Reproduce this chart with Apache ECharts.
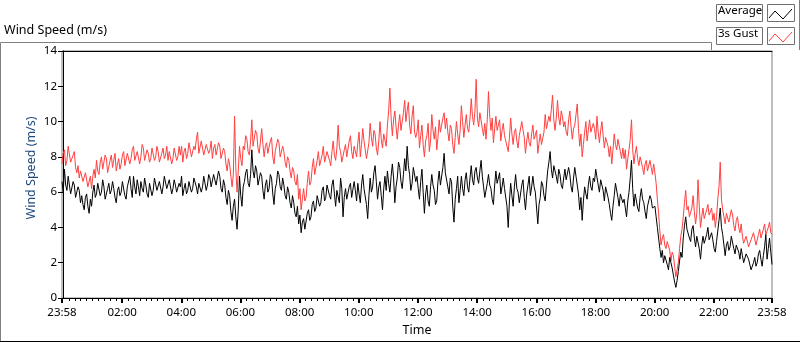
<!DOCTYPE html>
<html>
<head>
  <meta charset="utf-8">
  <title>Wind Speed</title>
  <script src="https://cdn.jsdelivr.net/npm/echarts@6/dist/echarts.min.js"></script>
  <style>
    html, body { margin: 0; padding: 0; background: #fff; overflow: hidden; }
    #chart { width: 800px; height: 342px; }
  </style>
</head>
<body>
<div id="chart"></div>
<script>
  // minutes from midnight; first sample is 23:58 of the previous day (-2)
  const startMin = -2;
  const stepMin = 2.5;

  // Average wind speed (m/s), one row per hour
  const average = [
    6.6, 6.0, 7.3, 6.4, 6.1, 6.9, 6.8, 5.9, 6.0, 6.6, 6.4, 5.7, 5.6, 6.3, 6.1, 5.4, 5.8, 5.3, 5.0, 5.7, 5.9, 5.2, 4.8, 5.6,
    5.2, 6.0, 6.4, 5.7, 5.9, 6.5, 6.6, 5.8, 6.0, 6.7, 6.3, 5.6, 5.5, 6.2, 6.5, 5.9, 6.1, 6.6, 6.2, 5.7, 5.4, 6.1, 6.3, 5.8,
    6.0, 6.6, 6.5, 5.8, 5.6, 6.3, 6.4, 6.9, 6.2, 5.7, 6.9, 6.3, 5.9, 6.7, 6.3, 5.8, 6.6, 6.2, 6.0, 6.8, 6.4, 5.9, 5.7, 6.5,
    6.4, 5.8, 6.1, 6.8, 6.7, 6.1, 6.0, 6.6, 6.5, 5.9, 6.3, 6.9, 6.8, 6.2, 6.1, 6.7, 6.6, 5.9, 6.2, 6.7, 6.4, 6.0, 5.9, 6.5,
    6.3, 6.9, 5.8, 6.2, 6.5, 5.9, 6.1, 6.6, 6.7, 6.0, 6.2, 6.8, 6.9, 6.3, 5.9, 6.5, 6.6, 6.0, 6.3, 6.9, 6.8, 6.1, 6.4, 7.0,
    6.8, 6.3, 6.2, 7.0, 7.1, 6.4, 6.5, 7.2, 6.9, 6.2, 6.0, 6.7, 6.4, 5.7, 5.3, 6.1, 5.8, 4.9, 4.4, 5.2, 5.6, 4.6, 3.9, 5.0,
    6.9, 5.8, 5.2, 6.3, 6.6, 7.1, 7.3, 6.5, 6.3, 7.0, 8.4, 7.2, 6.8, 7.5, 7.2, 6.4, 6.4, 7.1, 6.9, 6.1, 5.6, 6.4, 6.7, 6.0,
    6.2, 7.0, 6.8, 5.9, 5.3, 6.2, 6.5, 7.2, 7.0, 6.3, 6.1, 6.8, 6.4, 5.8, 5.6, 6.3, 6.0, 5.4, 5.1, 5.8, 5.4, 4.8, 4.6, 5.2,
    4.2, 4.7, 3.7, 4.3, 4.5, 3.9, 4.0, 4.8, 5.0, 4.4, 4.6, 5.3, 5.5, 4.9, 5.1, 5.8, 5.9, 5.2, 5.4, 6.1, 6.3, 5.5, 5.7, 6.4,
    6.3, 5.8, 5.6, 6.4, 6.7, 5.9, 5.2, 6.1, 6.0, 5.4, 6.8, 6.2, 4.6, 5.7, 6.2, 5.6, 5.5, 6.3, 6.5, 5.7, 5.8, 6.6, 6.1, 5.5,
    6.5, 5.9, 5.4, 6.4, 7.0, 6.2, 6.1, 5.3, 4.5, 5.8, 6.8, 6.0, 6.3, 7.1, 7.5, 6.6, 5.6, 6.3, 6.6, 5.8, 5.0, 6.2, 6.9, 6.1,
    7.2, 6.5, 6.0, 6.9, 7.6, 6.8, 5.4, 6.3, 6.8, 7.7, 7.4, 6.6, 6.2, 7.0, 7.9, 7.2, 8.6, 7.5, 7.0, 6.1, 6.5, 7.4, 7.3, 6.6,
    6.9, 6.2, 5.6, 6.6, 7.3, 6.0, 4.8, 5.9, 6.4, 5.5, 5.2, 6.3, 7.0, 6.4, 6.1, 5.3, 5.5, 6.6, 7.2, 6.4, 6.3, 7.4, 8.2, 7.1,
    7.0, 6.3, 5.9, 6.8, 6.6, 5.2, 4.3, 5.6, 6.2, 6.9, 5.4, 6.1, 6.9, 6.2, 5.8, 6.7, 7.1, 6.3, 6.0, 6.8, 7.5, 6.7, 6.4, 7.2,
    7.4, 6.8, 6.5, 7.2, 7.8, 6.9, 6.3, 5.7, 5.6, 6.5, 7.0, 6.4, 6.2, 5.6, 5.3, 6.4, 7.2, 6.5, 6.6, 7.1, 5.9, 6.3, 6.8, 6.2,
    6.1, 5.2, 4.0, 5.5, 6.5, 5.8, 5.2, 6.3, 7.0, 6.2, 6.0, 5.4, 5.5, 6.4, 6.7, 5.7, 5.0, 5.9, 6.4, 6.9, 5.8, 6.3, 6.9, 6.3,
    6.0, 5.1, 4.2, 5.3, 5.7, 6.6, 6.4, 5.8, 5.5, 6.4, 7.2, 7.7, 8.3, 7.3, 6.8, 7.5, 7.6, 6.9, 6.5, 7.3, 7.0, 6.4, 6.2, 6.8,
    7.3, 6.7, 6.6, 7.4, 7.0, 6.3, 6.0, 6.8, 7.4, 6.9, 6.8, 5.9, 5.0, 5.7, 4.4, 5.5, 6.3, 5.9, 5.6, 6.4, 6.9, 6.3, 6.1, 6.8,
    6.6, 7.3, 7.2, 6.4, 6.0, 6.7, 6.8, 6.1, 5.5, 6.3, 6.2, 5.7, 5.3, 4.8, 4.4, 5.2, 5.8, 6.5, 6.4, 5.7, 5.2, 5.9, 6.0, 5.4,
    5.6, 5.1, 4.6, 5.5, 6.0, 6.8, 7.8, 6.2, 5.2, 5.9, 5.8, 5.1, 4.9, 5.7, 6.2, 5.6, 5.4, 4.9, 4.5, 5.2, 5.3, 5.8, 5.6, 5.1,
    5.0, 5.2, 4.6, 4.0, 3.4, 2.8, 2.3, 2.7, 2.0, 2.4, 2.5, 1.9, 1.6, 2.3, 2.2, 1.7, 1.3, 0.9, 0.6, 1.0, 1.5, 2.1, 2.6, 2.3,
    3.4, 4.1, 4.6, 3.9, 3.8, 3.4, 3.2, 3.9, 4.1, 3.4, 2.9, 3.5, 3.6, 2.8, 2.2, 3.0, 3.5, 3.1, 3.0, 3.6, 4.0, 3.3, 3.2, 3.7,
    3.3, 2.8, 2.6, 3.2, 3.8, 4.4, 5.1, 4.0, 3.6, 3.0, 2.4, 3.0, 3.2, 2.7, 2.9, 3.5, 3.4, 2.8, 2.5, 3.0, 3.1, 2.6, 2.2, 2.8,
    2.4, 2.0, 1.9, 2.5, 2.6, 2.2, 2.1, 1.6, 1.5, 2.0, 2.3, 1.8, 2.0, 2.5, 2.7, 2.2, 1.8, 2.4, 2.9, 3.6, 2.2, 2.8, 3.4, 2.6,
    1.9
  ];

  // 3s gust (m/s), one row per hour
  const gust = [
    7.6, 8.2, 8.4, 7.5, 7.8, 8.6, 8.5, 7.7, 7.9, 8.1, 8.3, 7.4, 7.1, 7.5, 6.8, 7.2, 7.2, 6.6, 6.5, 7.1, 7.0, 6.3, 6.4, 6.9,
    6.2, 6.9, 7.3, 6.8, 7.8, 7.2, 7.0, 7.7, 8.0, 7.3, 7.4, 8.1, 7.9, 7.1, 7.2, 7.8, 8.1, 7.4, 7.5, 8.2, 7.2, 7.6, 7.9, 7.3,
    7.6, 8.1, 8.3, 7.5, 7.4, 8.2, 8.1, 7.6, 7.9, 8.4, 8.6, 7.8, 7.7, 8.3, 8.3, 7.6, 8.0, 8.7, 8.5, 7.8, 7.8, 8.4, 8.2, 7.7,
    7.9, 8.5, 8.4, 7.8, 8.0, 8.6, 8.3, 7.7, 7.7, 8.2, 8.5, 7.9, 8.1, 8.6, 7.8, 8.3, 8.2, 7.6, 7.9, 8.5, 8.4, 7.8, 8.0, 8.6,
    8.1, 8.6, 7.7, 8.3, 8.5, 7.9, 8.2, 8.8, 8.7, 8.0, 7.9, 8.6, 8.4, 9.0, 9.4, 8.2, 8.3, 8.9, 8.8, 8.1, 8.0, 8.7, 8.6, 8.2,
    8.4, 8.9, 7.9, 8.5, 8.7, 8.1, 8.2, 8.8, 8.6, 7.9, 7.8, 8.5, 8.3, 7.6, 7.2, 7.9, 7.6, 6.9, 6.3, 7.0, 10.3, 7.4, 6.0, 7.2,
    8.6, 7.9, 7.5, 8.6, 8.4, 9.2, 9.0, 8.3, 8.1, 8.9, 10.1, 8.6, 8.7, 9.5, 9.3, 8.5, 8.2, 8.9, 9.6, 8.7, 8.0, 8.6, 8.8, 8.2,
    8.2, 8.9, 9.1, 8.0, 7.6, 8.3, 8.4, 9.0, 8.8, 8.0, 7.9, 8.6, 8.3, 7.7, 7.4, 8.0, 7.8, 7.2, 6.8, 7.4, 7.2, 6.6, 6.4, 7.0,
    5.6, 6.2, 5.0, 5.6, 6.2, 5.5, 5.7, 6.5, 7.2, 6.4, 6.6, 7.4, 7.9, 7.0, 7.1, 7.8, 8.3, 7.5, 7.4, 8.1, 8.6, 7.7, 7.6, 8.3,
    8.4, 7.8, 7.5, 8.3, 8.9, 8.1, 7.8, 8.5, 9.8, 8.6, 8.3, 7.7, 7.6, 8.4, 8.7, 8.0, 8.1, 8.9, 9.2, 8.3, 7.9, 8.6, 8.6, 8.0,
    8.8, 9.4, 8.0, 8.7, 9.6, 8.9, 8.4, 7.9, 7.8, 8.8, 9.9, 9.1, 8.6, 9.5, 9.3, 8.5, 8.1, 8.9, 10.0, 9.0, 8.5, 9.3, 9.2, 8.6,
    9.8, 10.6, 11.9, 10.2, 9.2, 10.1, 10.6, 9.7, 9.0, 9.8, 10.4, 9.5, 9.6, 10.5, 11.2, 10.0, 10.6, 11.1, 9.8, 9.3, 10.3, 10.9, 9.4, 9.1,
    9.4, 10.1, 8.5, 9.2, 9.8, 8.7, 8.0, 8.9, 9.2, 9.9, 8.3, 8.9, 10.4, 9.5, 9.0, 9.7, 8.4, 9.1, 10.1, 9.4, 9.3, 10.2, 10.5, 9.6,
    10.2, 9.4, 8.9, 9.8, 9.6, 8.7, 8.2, 9.1, 10.0, 9.3, 8.7, 9.5, 10.9, 10.0, 9.1, 9.8, 10.4, 9.6, 9.4, 10.2, 11.3, 10.3, 9.8, 10.6,
    12.4, 10.2, 9.7, 10.5, 10.6, 9.6, 9.2, 9.9, 9.0, 10.1, 11.7, 10.3, 9.5, 10.2, 8.8, 9.6, 10.3, 9.5, 9.4, 10.1, 8.9, 9.5, 9.9, 9.2,
    9.2, 8.6, 8.3, 9.1, 10.2, 9.3, 8.7, 9.4, 9.6, 8.9, 8.5, 9.2, 9.3, 10.0, 10.0, 9.1, 8.2, 8.9, 9.4, 8.8, 8.6, 9.3, 9.8, 9.0,
    8.9, 9.5, 8.2, 8.8, 9.3, 8.7, 8.6, 9.4, 10.4, 9.6, 9.6, 10.3, 10.0, 10.7, 11.5, 10.1, 9.5, 10.2, 11.2, 10.2, 9.8, 10.6, 10.3, 9.7,
    10.0, 9.4, 9.2, 10.1, 10.6, 9.7, 9.0, 9.6, 9.8, 10.4, 11.0, 9.6, 8.6, 9.3, 8.0, 8.7, 9.4, 10.0, 8.9, 9.5, 10.1, 9.4, 9.3, 9.9,
    9.6, 9.0, 10.3, 9.4, 8.8, 9.5, 10.0, 9.2, 8.5, 9.1, 9.2, 8.6, 8.0, 8.6, 7.6, 8.4, 9.3, 8.7, 8.4, 9.0, 8.9, 8.3, 7.9, 8.5,
    7.9, 8.4, 7.3, 7.9, 8.4, 9.0, 10.1, 8.4, 7.6, 8.2, 8.6, 7.9, 7.5, 8.0, 8.1, 7.4, 7.0, 7.6, 7.8, 7.2, 7.2, 7.8, 7.4, 7.0,
    7.6, 7.1, 6.5, 5.6, 4.8, 3.8, 3.0, 3.4, 3.6, 3.0, 2.8, 3.2, 3.3, 2.7, 2.1, 2.6, 2.4, 1.8, 1.2, 1.6, 2.0, 2.8, 3.5, 3.9,
    4.6, 5.4, 6.1, 5.0, 5.2, 4.6, 4.5, 5.1, 5.8, 4.9, 4.2, 4.8, 6.7, 5.2, 4.0, 4.6, 5.1, 4.5, 4.4, 5.0, 5.3, 4.7, 4.6, 5.1,
    4.4, 4.8, 4.0, 4.6, 5.6, 6.3, 7.7, 5.6, 5.0, 4.6, 4.2, 4.8, 4.9, 4.3, 4.4, 5.0, 4.7, 4.1, 3.8, 4.4, 4.6, 4.0, 3.7, 4.2,
    3.5, 3.1, 3.0, 3.5, 3.4, 2.9, 2.8, 3.3, 3.2, 3.7, 3.6, 3.0, 3.1, 3.6, 3.9, 3.4, 3.3, 3.9, 4.2, 3.6, 3.5, 4.0, 4.3, 3.7,
    3.6
  ];

  // label positions on the time axis (minutes) and minor tick spacing
  const majorTicks = [-2, 120, 240, 360, 480, 600, 720, 840, 960, 1080, 1200, 1320, 1438];
  const minorStep = 12;

  const times = average.map((v, i) => startMin + i * stepMin);
  const minorTicks = [];
  for (let m = minorStep; m < 1438; m += minorStep) {
    if (m % 120 !== 0) minorTicks.push(m);
  }

  function fmtTime(v) {
    if (v < 0 || v >= 1438) return '23:58';
    const h = Math.floor(v / 60), m = v % 60;
    return (h < 10 ? '0' : '') + h + ':' + (m < 10 ? '0' : '') + m;
  }

  const font = 'Noto Sans';
  const chart = echarts.init(document.getElementById('chart'), null, { width: 800, height: 342 });

  const swatch = (y, color) => ({
    type: 'polyline',
    shape: { points: [[769, y + 12], [775, y + 5], [783, y + 13], [792, y + 3]] },
    style: { stroke: color, lineWidth: 1, fill: null },
    silent: true
  });

  chart.setOption({
    animation: false,
    backgroundColor: '#fff',
    grid: {
      left: 62, right: 28, top: 51, bottom: 40,
      show: true, borderColor: '#808080', borderWidth: 1
    },
    xAxis: [
      {
        type: 'value', min: -2, max: 1438,
        name: 'Time', nameLocation: 'middle', nameGap: 26,
        nameTextStyle: { fontFamily: font, fontSize: 12.5, color: '#000' },
        axisLine: { show: true, lineStyle: { color: '#000', width: 1 } },
        axisTick: { show: true, length: 5, customValues: majorTicks, lineStyle: { color: '#000', width: 2 } },
        axisLabel: { customValues: majorTicks, formatter: fmtTime, margin: 9,
          fontFamily: font, fontSize: 11.5, color: '#000' },
        splitLine: { show: false }
      },
      {
        type: 'value', min: -2, max: 1438, position: 'bottom',
        axisLine: { show: false },
        axisTick: { show: true, length: 3, customValues: minorTicks, lineStyle: { color: '#000' } },
        axisLabel: { show: false },
        splitLine: { show: false }
      },
      {
        type: 'value', min: -2, max: 1438, position: 'top',
        axisLine: { show: true, lineStyle: { color: '#000' } },
        axisTick: { show: false },
        axisLabel: { show: false },
        splitLine: { show: false }
      }
    ],
    yAxis: {
      type: 'value', min: 0, max: 14, interval: 2,
      axisLine: { show: true, lineStyle: { color: '#000' } },
      axisTick: { show: true, length: 5, lineStyle: { color: '#000' } },
      axisLabel: { margin: 5, fontFamily: font, fontSize: 11.5, color: '#000' },
      splitLine: { show: false }
    },
    series: [
      {
        name: '3s Gust', type: 'line', showSymbol: false, sampling: null,
        data: times.map((t, i) => [t, gust[i]]),
        lineStyle: { color: '#ff4040', width: 1 }, itemStyle: { color: '#ff4040' }
      },
      {
        name: 'Average', type: 'line', showSymbol: false,
        data: times.map((t, i) => [t, average[i]]),
        lineStyle: { color: '#000', width: 1 }, itemStyle: { color: '#000' }
      }
    ],
    graphic: [
      { type: 'text', left: 4, top: 24, style: { text: 'Wind Speed (m/s)', font: '12.5px ' + font, fill: '#000' } },
      { type: 'text', x: 31, y: 168, rotation: Math.PI / 2,
        style: { text: 'Wind Speed (m/s)', font: '12.5px ' + font, fill: '#1f4a7d', align: 'center', verticalAlign: 'middle' } },
      // panel frame
      { type: 'polyline', shape: { points: [[0.5, 341], [0.5, 42.5], [711.5, 42.5], [711.5, 50]] },
        style: { stroke: '#808080', lineWidth: 1, fill: null }, silent: true },
      { type: 'line', shape: { x1: 0, y1: 341.5, x2: 800, y2: 341.5 }, style: { stroke: '#000', lineWidth: 1 }, silent: true },
      { type: 'line', shape: { x1: 799.5, y1: 0, x2: 799.5, y2: 50 }, style: { stroke: '#808080', lineWidth: 1 }, silent: true },
      // legend
      { type: 'rect', shape: { x: 716.5, y: 4.5, width: 46, height: 17 }, style: { fill: '#fff', stroke: '#707070', lineWidth: 1 } },
      { type: 'text', left: 718, top: 5, style: { text: 'Average', font: '11.5px ' + font, fill: '#000' } },
      { type: 'rect', shape: { x: 767.5, y: 4.5, width: 27, height: 17 }, style: { fill: '#fff', stroke: '#707070', lineWidth: 1 } },
      swatch(6, '#000'),
      { type: 'rect', shape: { x: 716.5, y: 27.5, width: 46, height: 17 }, style: { fill: '#fff', stroke: '#707070', lineWidth: 1 } },
      { type: 'text', left: 718, top: 28, style: { text: '3s Gust', font: '11.5px ' + font, fill: '#000' } },
      { type: 'rect', shape: { x: 767.5, y: 27.5, width: 27, height: 17 }, style: { fill: '#fff', stroke: '#707070', lineWidth: 1 } },
      swatch(29, '#ff4040')
    ]
  });
</script>
</body>
</html>
